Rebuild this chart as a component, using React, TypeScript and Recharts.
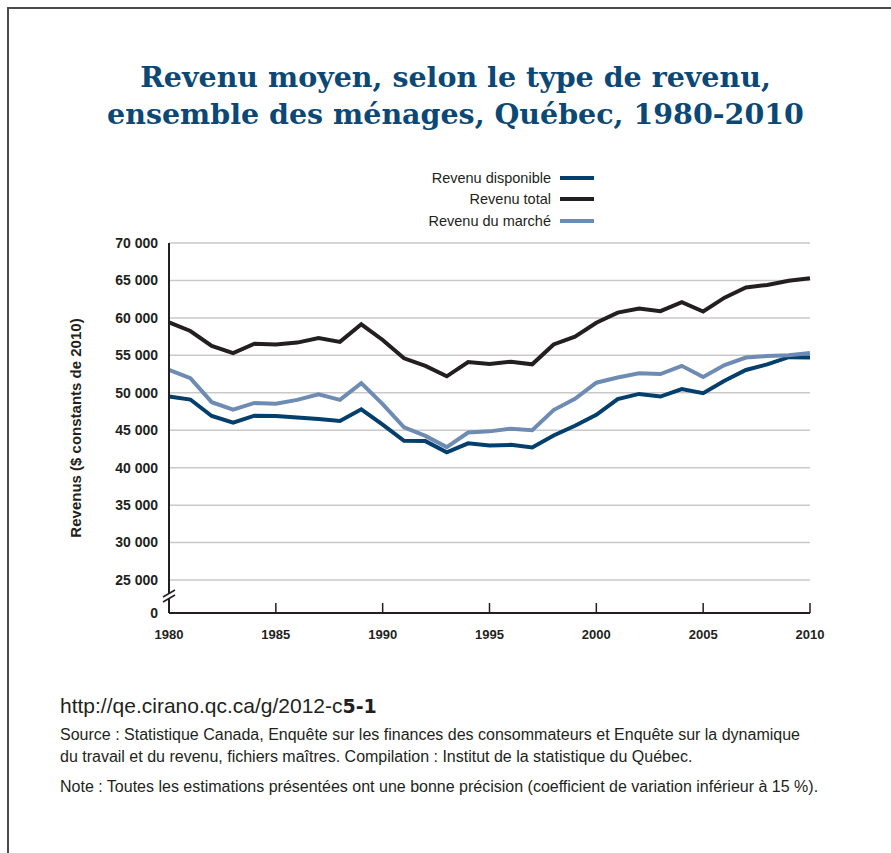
import React from "react";
import { LineChart, Line, XAxis, YAxis, CartesianGrid } from "recharts";

const years = [
  1980, 1981, 1982, 1983, 1984, 1985, 1986, 1987, 1988, 1989, 1990, 1991, 1992, 1993, 1994, 1995,
  1996, 1997, 1998, 1999, 2000, 2001, 2002, 2003, 2004, 2005, 2006, 2007, 2008, 2009, 2010,
];
const revenuDisponible = [
  49500, 49100, 46900, 46000, 46950, 46900, 46700, 46500, 46250, 47800, 45750, 43600, 43550, 42050,
  43250, 42950, 43050, 42700, 44300, 45600, 47050, 49150, 49850, 49500, 50500, 49950, 51600, 53050,
  53800, 54750, 54700,
];
const revenuTotal = [
  59400, 58250, 56250, 55300, 56550, 56450, 56700, 57300, 56800, 59150, 57050, 54600, 53600, 52200,
  54100, 53850, 54150, 53800, 56450, 57500, 59350, 60700, 61250, 60900, 62100, 60850, 62700, 64050,
  64400, 64950, 65300,
];
const revenuMarche = [
  53050, 51950, 48750, 47750, 48650, 48550, 49050, 49800, 49050, 51300, 48500, 45400, 44250, 42750,
  44700, 44850, 45200, 45000, 47700, 49200, 51350, 52050, 52600, 52500, 53600, 52100, 53700, 54700,
  54900, 55000, 55300,
];

// bottom of the broken axis, shown as "0"
const AXIS_BASE = 20600;
const gridTicks = [25000, 30000, 35000, 40000, 45000, 50000, 55000, 60000, 65000, 70000];
const yTicks = [AXIS_BASE, ...gridTicks];
const xTicks = [1980, 1985, 1990, 1995, 2000, 2005, 2010];

const series = [
  { key: "disponible", name: "Revenu disponible", color: "#023f6c" },
  { key: "total", name: "Revenu total", color: "#231f20" },
  { key: "marche", name: "Revenu du marché", color: "#6e8cb3" },
];

const data = years.map((year, i) => ({
  year,
  disponible: revenuDisponible[i],
  total: revenuTotal[i],
  marche: revenuMarche[i],
}));

const FONT = '"Liberation Sans", Arial, sans-serif';

function formatY(v: number) {
  if (v === AXIS_BASE) return "0";
  return `${Math.round(v / 1000)} 000`;
}

function YTick(props: any) {
  const { x, y, payload } = props;
  const axisX = x + 11;
  return (
    <g>
      {payload.value === AXIS_BASE && (
        <g>
          <rect x={axisX - 3} y={y - 19} width={6} height={4} fill="#fff" />
          <line x1={axisX - 6} y1={y - 16} x2={axisX + 6} y2={y - 23} stroke="#231f20" strokeWidth={1.5} />
          <line x1={axisX - 6} y1={y - 11} x2={axisX + 6} y2={y - 18} stroke="#231f20" strokeWidth={1.5} />
        </g>
      )}
      <text x={x} y={y} dy="0.35em" textAnchor="end" fill="#231f20" fontSize={14} fontWeight="bold" fontFamily={FONT}>
        {formatY(payload.value)}
      </text>
    </g>
  );
}

function YLabel(props: any) {
  const { viewBox } = props;
  const cx = viewBox.x + 15;
  const cy = viewBox.y + viewBox.height / 2;
  return (
    <text
      x={cx}
      y={cy}
      transform={`rotate(-90 ${cx} ${cy})`}
      textAnchor="middle"
      dominantBaseline="central"
      fill="#231f20"
      fontSize={15}
      fontWeight="bold"
      fontFamily={FONT}
    >
      Revenus ($ constants de 2010)
    </text>
  );
}

function LegendBox() {
  return (
    <div style={{ position: "absolute", top: 167, left: 380, width: 214, fontFamily: FONT, fontSize: 14.5, color: "#231f20" }}>
      {series.map((s) => (
        <div key={s.key} style={{ display: "flex", alignItems: "center", justifyContent: "flex-end", height: 21.5 }}>
          <span>{s.name}</span>
          <span style={{ display: "inline-block", width: 34, height: 4, background: s.color, marginLeft: 9 }} />
        </div>
      ))}
    </div>
  );
}

export default function App() {
  return (
    <div style={{ position: "absolute", left: 0, top: 0, width: 891, height: 853, background: "#fff", overflow: "hidden" }}>
      <div
        style={{
          position: "absolute",
          left: 7,
          top: 7,
          width: 900,
          height: 900,
          borderTop: "2px solid #4a4a4a",
          borderLeft: "2px solid #4a4a4a",
        }}
      />
      <div
        style={{
          position: "absolute",
          left: 0,
          top: 59,
          width: 911,
          textAlign: "center",
          fontFamily: '"DejaVu Serif", serif',
          fontWeight: "bold",
          fontSize: 28.5,
          lineHeight: "37px",
          color: "#0c4876",
        }}
      >
        Revenu moyen, selon le type de revenu,
        <br />
        ensemble des ménages, Québec, 1980-2010
      </div>

      <LegendBox />

      <div style={{ position: "absolute", left: 0, top: 0 }}>
        <LineChart width={891} height={660} data={data} margin={{ top: 243, right: 81, bottom: 17, left: 60 }}>
          <CartesianGrid horizontal vertical={false} horizontalValues={gridTicks} stroke="#c9c9c9" strokeWidth={1.5} />
          <XAxis
            dataKey="year"
            type="number"
            domain={[1980, 2010]}
            ticks={xTicks}
            height={30}
            tickSize={-10}
            tickMargin={27}
            axisLine={{ stroke: "#231f20", strokeWidth: 2 }}
            tickLine={{ stroke: "#231f20", strokeWidth: 1.5 }}
            tick={{ fill: "#231f20", fontSize: 13, fontWeight: "bold", fontFamily: FONT }}
          />
          <YAxis
            type="number"
            domain={[AXIS_BASE, 70000]}
            ticks={yTicks}
            width={109}
            tickSize={0}
            tickMargin={11}
            tickLine={false}
            axisLine={{ stroke: "#231f20", strokeWidth: 2 }}
            tick={<YTick />}
            label={<YLabel />}
            allowDataOverflow
          />
          {series.map((s) => (
            <Line
              key={s.key}
              dataKey={s.key}
              name={s.name}
              type="linear"
              stroke={s.color}
              strokeWidth={4}
              dot={false}
              isAnimationActive={false}
            />
          ))}
        </LineChart>
      </div>

      <div style={{ position: "absolute", left: 60, top: 693, fontFamily: FONT, color: "#231f20" }}>
        <div style={{ fontSize: 21, lineHeight: "26px" }}>
          http://qe.cirano.qc.ca/g/2012-c
          <span style={{ fontWeight: 900, fontFamily: '"DejaVu Sans", sans-serif', fontSize: 19 }}>5-1</span>
        </div>
        <div style={{ fontSize: 16, lineHeight: "22px", marginTop: 5 }}>
          Source : Statistique Canada, Enquête sur les finances des consommateurs et Enquête sur la dynamique
          <br />
          du travail et du revenu, fichiers maîtres. Compilation : Institut de la statistique du Québec.
        </div>
        <div style={{ fontSize: 16, lineHeight: "22px", marginTop: 8 }}>
          Note : Toutes les estimations présentées ont une bonne précision (coefficient de variation inférieur à 15 %).
        </div>
      </div>
    </div>
  );
}
